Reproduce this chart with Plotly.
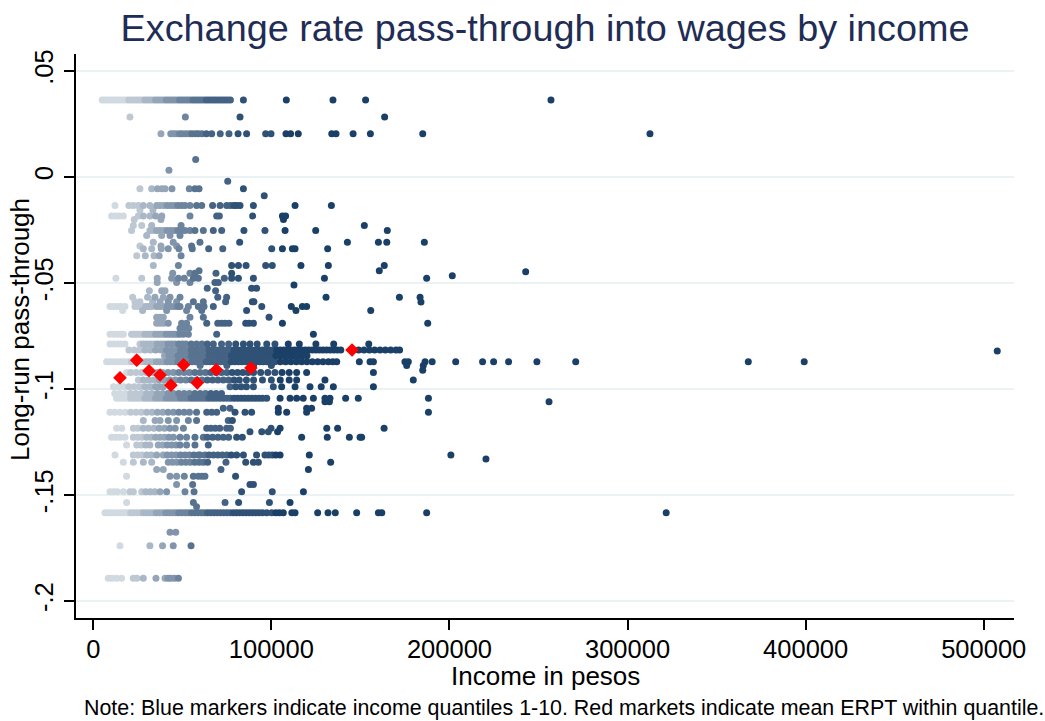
import plotly.graph_objects as go

# ---------------- data (income in thousands of pesos) ----------------
erpt_levels = [
    0.0363, 0.0283, 0.0204, 0.0083, 0.0032, -0.0020, -0.0056, -0.0088, -0.0135, -0.0156,
    -0.0184, -0.0200, -0.0229, -0.0253, -0.0276, -0.0308, -0.0325, -0.0339, -0.0372, -0.0418,
    -0.0442, -0.0447, -0.0454, -0.0466, -0.0478, -0.0498, -0.0509, -0.0525, -0.0536, -0.0567,
    -0.0588, -0.0590, -0.0611, -0.0630, -0.0662, -0.0690, -0.0714, -0.0742, -0.0788, -0.0816,
    -0.0821, -0.0843, -0.0871, -0.0889, -0.0911, -0.0922, -0.0957, -0.0989, -0.1021, -0.1044,
    -0.1060, -0.1091, -0.1110, -0.1149, -0.1185, -0.1201, -0.1228, -0.1264, -0.1311, -0.1330,
    -0.1346, -0.1380, -0.1411, -0.1450, -0.1484, -0.1535, -0.1555, -0.1584, -0.1676, -0.1739,
    -0.1893,
]

incomes_by_level = [
    [5, 6.5, 8, 9.5, 11, 12.5, 14, 15.5, 17, 18.5, 20, 21.5, 23, 24.5, 26, 27.5, 29, 30.5, 32, 33.5,
     35, 36.5, 38, 39.5, 41, 42.5, 44, 45.5, 47, 48.5, 50, 51.5, 53, 54.5, 56, 57.5, 59, 60.5, 62,
     63.5, 65, 66.5, 68, 69.5, 71, 72.5, 74, 75.5, 77, 84.3, 108.4, 134.6, 152.9, 257],
    [20.6, 51.7, 82.4, 163.6],
    [38.0, 43.5, 45, 46.5, 48.5, 50, 52, 54, 55.5, 57.5, 59, 61, 63.5, 66.5, 71.3, 76.2, 81.3, 86.1,
     96.8, 99.8, 108.2, 110.8, 115.1, 133.9, 136.3, 145.9, 155.6, 185, 312.6],
    [57.5],
    [42.5],
    [75.5],
    [26.2, 32.8, 36, 38.5, 40.3, 44.2, 53.9, 57.1, 59.4, 84.3],
    [96.0],
    [12.2, 20, 22.5, 25.3, 28.1, 31.8, 35.6, 37.5, 39.5, 41.5, 43.5, 45.5, 47.5, 49.5, 51.5, 54.3,
     58, 60.9, 67, 71.2, 74.9, 77, 79, 80.5, 82.4, 89.9, 113.3, 133.7],
    [26.2, 33.5],
    [10.3, 12.5, 14.5, 16.9, 25.3, 28.1, 31.8, 35, 38.5, 54.3, 69.3, 70.8, 89.5, 106.2, 108.0],
    [23, 38.0, 106.8],
    [22.5, 27.2, 32.8, 49.3, 152.2],
    [21.5, 31.8, 33.5, 35.5, 37.5, 39.5, 41.5, 43.5, 45.5, 47.5, 49.5, 51.5, 54.3, 57.1, 61.8, 67.4,
     72.1, 84.6, 96.4, 107.7, 124.9, 165.1],
    [30, 38.4, 43.1, 48.7],
    [33.7, 44.9, 59.9, 82.2, 142.7, 160.1, 164.8, 185.9],
    [26.2, 38.0, 46.8, 55.2],
    [28.1, 32.8, 38.2, 42.1, 48.1, 55.6, 64.8, 72.7, 100.2, 106.2, 111.8, 113.3, 131.6],
    [24.4, 29.2, 34.1, 37, 49.3],
    [33.7, 47.8, 77.7, 81.5, 85.8, 96.8, 100.5, 116.6, 132.0, 163.4],
    [59.4, 160.6],
    [242.8],
    [44.6, 54.3, 57.1, 68.9, 77.7],
    [201.6],
    [12.7, 27.2, 35.9, 44.0, 47.8, 51.1, 56.2, 59.0, 73.6, 77.7, 81.5, 89.9, 129.8, 187.2],
    [35.9, 46.8, 54.3, 68.3, 70.2],
    [112.7],
    [64.0, 88.9, 91.7],
    [31.5, 38.4, 40.3, 68.7],
    [22.1, 30.5, 34.6, 39.3, 43.1, 48.7, 69.9, 74.9, 130.7, 171.9, 183.5],
    [23.4, 26.2, 33.3, 37.5, 42.1, 46.8, 56.2, 61.8, 74.3, 89.3, 90.2],
    [184],
    [9.4, 11.5, 13.5, 15.5, 17.8, 23.4, 25.5, 27.5, 29.5, 31, 32.8, 35.6, 37.5, 39.5, 41.5, 43.5,
     45.5, 47.5, 48.7, 53.4, 59, 62.2, 67.4, 94.6, 111.2, 117.4, 119.8],
    [16.5, 27.7, 41.2, 52.4, 60.9, 86.1, 113.8, 155.8],
    [35.6, 37.5, 39.3, 54.3, 61.8, 98.7],
    [35.6, 37.5, 39.5, 42.1, 49.6, 52.4, 63.7, 69.9, 72, 74, 76.2, 85.6, 87.5, 89.9, 106.2, 187.8],
    [48.7, 52, 53.6],
    [9.4, 11.5, 13.5, 15.5, 16.9, 21.5, 23, 24.5, 26, 27.5, 29, 30.5, 32, 33.5, 35, 36.5, 38, 39.5,
     41, 42.5, 44, 45.5, 47, 48.5, 50.6, 53.4, 69.3, 123.6],
    [9.4, 11.5, 13.5, 15.5, 17.8, 26.2, 28, 30, 32, 34, 36, 38, 40, 42, 44, 46, 48, 50, 52, 55, 58,
     61, 64, 67.4, 72, 76, 80, 84.3, 88, 92, 97.4, 102, 109.5, 115.7, 125, 135, 154.7],
    [20, 23, 26, 29, 32, 35, 38, 41, 44, 47, 49, 51, 53, 55, 57, 59, 61, 63, 65, 67, 69, 71, 73, 75,
     77, 79, 81, 83, 85, 87, 89, 91, 93, 95, 97, 99, 101, 103, 105, 107, 109, 111, 113, 115, 117,
     119, 121, 123, 125, 127, 129, 131, 133, 135, 137, 139, 149, 152, 155, 158, 161, 164, 167, 170,
     172],
    [507.6],
    [40, 42.5, 45, 47.5, 50, 52.5, 55, 57.5, 60, 62.5, 65, 67.5, 70, 72.5, 75, 77.5, 80, 82.5, 85,
     87.5, 90, 92.5, 95, 97.5, 100, 102.5, 105, 107.5, 110, 112.5, 115, 117.5, 120],
    [7.5, 9.5, 11.5, 13.5, 15.5, 17.5, 19.5, 21.5, 23.5, 25.5, 27.5, 29.5, 31.5, 33.5, 35.5, 37.5,
     39.5, 41.5, 43.5, 45.5, 47.5, 49.5, 51.5, 53.5, 55.5, 57.5, 59.5, 61.5, 63.5, 65.5, 67.5, 69.5,
     71.5, 73.5, 75.5, 77.5, 79.5, 81.5, 83.5, 85.5, 87.5, 89.5, 91.5, 93.5, 95.5, 97.5, 99.5, 102,
     105, 108, 111, 114, 117, 120, 123, 126, 129, 132, 134.5, 136.7, 149.4, 155.4, 157.3, 175.0,
     176.9, 186.3, 190.3, 203.5, 218.6, 224.8, 233.2, 249.1, 270.9, 367.8, 399.2],
    [60, 75, 90, 100, 176, 185.3],
    [185],
    [18.7, 21, 24, 27, 30, 33, 36, 39, 42, 45, 48, 51, 54, 57, 60, 63, 66, 69, 72, 75, 78, 81, 84,
     87, 90, 94, 98, 102, 106, 110, 114.2, 119.8, 157.3],
    [25.3, 28, 31, 34, 37, 40, 43, 46, 49, 52, 55, 58, 61, 64, 67, 70, 73, 76, 79, 82, 86, 90, 95,
     100, 105, 110, 114.2, 130.1, 179.7],
    [11.3, 14, 17, 20, 23, 26, 29, 32, 35, 37, 39.3, 76.8, 80, 83, 86, 89.9, 101.1, 105.8, 113.3,
     121.7, 128, 134.8, 157.3],
    [12, 15, 18, 21, 24, 27, 30, 33, 36, 39, 42, 45, 48, 51, 54, 57, 60, 63, 66, 69, 72],
    [13.1, 15, 17, 19, 21, 23, 25, 27, 29, 31, 33, 35, 37, 39, 41, 43, 45, 47, 49, 51, 53, 55, 57,
     59, 61, 63, 65, 67, 69, 71, 73, 75, 77, 79, 81, 83, 85, 87, 89, 91, 93, 95, 97.4, 104.9, 110.5,
     114.2, 117.9, 123.6, 130.1, 132.9, 141.7, 148.8, 188.2],
    [130.1, 132.6, 255.9],
    [73, 76.8, 103.9, 119.8, 122.6],
    [9.4, 12, 15, 18, 21, 24, 27, 30, 33, 36, 39, 42, 45, 48, 51, 54, 58, 63.7, 66.5, 69.3, 79.6,
     85.2, 88.9, 103.9, 108.6, 119.8, 188.2],
    [28.1, 34.7, 37.5, 42.1, 46.8, 53.4, 58.0, 75.8, 78.1],
    [13.1, 16, 22.5, 25, 28, 31, 34, 37, 40, 43, 46, 50.6, 63.7, 66, 68.5, 71, 74.9, 77, 99.8,
     104.9, 131.1, 137.2, 163.3],
    [88.0, 94.6, 98.3, 103.5],
    [10.3, 12.5, 15, 17.8, 22.5, 25, 27.5, 30, 32.5, 35, 37.5, 40, 42.5, 45, 48.7, 52.4, 57.1, 61.8,
     64, 67, 70, 73, 76, 80.5, 83.7, 117.0, 131.4, 143.8, 149.8, 150.7],
    [18.7, 24.4, 27, 29.5, 31.8, 36.5, 39, 41.5, 44, 46.5, 48.7, 52.4, 57.1, 64.6],
    [12.2, 22.5, 25, 27.5, 30, 32.5, 35.6, 39.3, 41.5, 44, 46.5, 49, 51.5, 54, 56.5, 59, 60, 62.7,
     65, 67.5, 70, 72.5, 75, 77.5, 80.5, 84.3, 91.7, 96.4, 98.5, 100.5, 102.5, 104.9, 121.3, 200.8],
    [220.5],
    [16.9, 22.5, 28.1, 32.8, 42.1, 44.5, 47, 49.5, 52, 54.5, 57, 59.5, 61.8, 64.2, 74.5, 85.6, 89.9,
     92.7, 133.3],
    [35.6, 39.3, 71.7, 120.8],
    [18.7, 43.1, 46.8, 51.1, 56.2, 59, 61, 62.7, 79.9],
    [46.8, 55.8, 88.0, 89.9],
    [9.4, 11.5, 13.5, 16.9, 20.6, 22.5, 27.2, 29.5, 32, 34.5, 37.5, 41.2, 51.5, 56.6, 83.3, 100.5,
     118.0],
    [18.7, 56.2, 74.0, 81.6, 98.9, 110.5],
    [58.0],
    [6.6, 8.4, 10.2, 12, 13.8, 15.6, 17.4, 19.2, 21, 22.8, 24.6, 26.4, 28.2, 30, 31.8, 33.6, 35.4,
     37.2, 39, 40.8, 42.6, 44.4, 46.2, 48, 49.8, 51.6, 53.4, 55.2, 57, 58.8, 60.6, 62.4, 64.2, 66,
     67.8, 69.6, 71.4, 73.2, 75, 76.8, 78.6, 80.4, 82.2, 84, 85.8, 87.6, 89.4, 91.2, 93, 95, 97.4,
     100.2, 102.5, 104.5, 106.7, 111.5, 113.3, 126.0, 131.8, 135.9, 147.9, 160.1, 162, 187.2, 321.7],
    [43.1, 46.3],
    [15.0, 31.8, 38.9, 44.9, 54.9],
    [8.4, 10.5, 13, 15.9, 22.5, 24.5, 28.1, 35.2, 40.3, 42, 43.5, 45.5, 47.8],
]

# upper income bounds of quantiles 1-9 (thousands), estimated from marker shading
quantile_cutoffs = [19.5, 27.5, 34.5, 40.5, 47, 54.5, 63, 77, 102]

# mean income (thousands) and mean ERPT within each quantile (red markers)
mean_income = [15.0, 24.4, 31.3, 37.5, 43.6, 50.7, 58.4, 69.1, 88.5, 145.3]
mean_erpt = [-0.0947, -0.0864, -0.0914, -0.0934, -0.0982, -0.0886, -0.0971, -0.0909, -0.0901, -0.0816]

x_ticks = [0, 100000, 200000, 300000, 400000, 500000]
y_ticks = [0.05, 0, -0.05, -0.1, -0.15, -0.2]
y_ticklabels = [".05", "0", "-.05", "-.1", "-.15", "-.2"]

# ---------------- build the points per quantile ----------------
navy = (27, 64, 104)


def quantile_of(inc):
    q = 0
    while q < len(quantile_cutoffs) and inc > quantile_cutoffs[q]:
        q += 1
    return q


qx = [[] for _ in range(10)]
qy = [[] for _ in range(10)]
for lvl, incs in zip(erpt_levels, incomes_by_level):
    for inc in incs:
        q = quantile_of(inc)
        qx[q].append(inc * 1000)
        qy[q].append(lvl)

fig = go.Figure()
for q in range(10):
    inten = 0.2 + 0.8 * q / 9
    col = tuple(round(255 - inten * (255 - c)) for c in navy)
    fig.add_trace(go.Scatter(
        x=qx[q], y=qy[q], mode="markers",
        marker=dict(size=7, color="rgb(%d,%d,%d)" % col, line=dict(width=0)),
        showlegend=False, hoverinfo="skip",
    ))

fig.add_trace(go.Scatter(
    x=[v * 1000 for v in mean_income], y=mean_erpt, mode="markers",
    marker=dict(symbol="diamond", size=10.5, color="#ff0000", line=dict(width=0)),
    showlegend=False, hoverinfo="skip",
))

FONT = "Liberation Sans, Arial, sans-serif"
fig.update_layout(
    width=1045, height=721,
    margin=dict(l=76, r=31, t=54, b=103),
    paper_bgcolor="white", plot_bgcolor="white",
    font=dict(family=FONT, color="black"),
    title=dict(text="Exchange rate pass-through into wages by income",
               x=545 / 1045, xanchor="center", xref="container",
               y=1 - 28 / 721, yanchor="middle", yref="container",
               font=dict(size=37.8, color="#1f2d56", family=FONT)),
    xaxis=dict(range=[-9700, 517000], tickvals=x_ticks, ticktext=[str(v) for v in x_ticks],
               showgrid=False, zeroline=False, showline=True, linecolor="black", linewidth=1.5,
               ticks="outside", ticklen=10, tickcolor="black", tickwidth=1.5,
               ticklabelstandoff=-2, automargin=False,
               tickfont=dict(size=25.5, color="black")),
    yaxis=dict(range=[-0.208, 0.058], tickvals=y_ticks, ticktext=y_ticklabels,
               showgrid=True, gridcolor="#eaf2f3", gridwidth=2, zeroline=False,
               showline=True, linecolor="black", linewidth=1.5,
               ticks="outside", ticklen=10, tickcolor="black", tickwidth=1.5,
               ticklabelstandoff=1, automargin=False,
               tickangle=-90, tickfont=dict(size=25.5, color="black")),
    annotations=[
        dict(text="Income in pesos", x=0.5, y=-0.1028, xref="paper", yref="paper",
             xanchor="center", yanchor="middle", showarrow=False,
             font=dict(size=26, color="black")),
        dict(text="Long-run pass-through", x=(20 - 76) / 938, y=0.5106, xref="paper", yref="paper",
             xanchor="center", yanchor="middle", textangle=-90, showarrow=False,
             font=dict(size=26, color="black")),
        dict(text="Note: Blue markers indicate income quantiles 1-10. Red markets indicate mean ERPT within quantile.",
             x=(82 - 76) / 938, y=-0.1596, xref="paper", yref="paper",
             xanchor="left", yanchor="middle", showarrow=False,
             font=dict(size=21.4, color="black")),
    ],
)

fig.write_html("out.html", config={"displayModeBar": False},
               post_script="document.body.style.margin='0px';")
